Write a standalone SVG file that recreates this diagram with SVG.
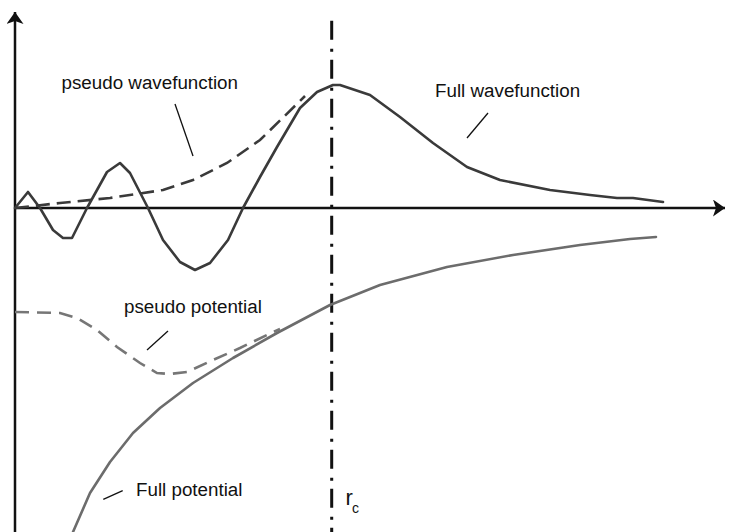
<svg xmlns="http://www.w3.org/2000/svg" width="729" height="532" viewBox="0 0 729 532">
<style>
.lbl{font-family:"Liberation Sans",Arial,sans-serif;font-size:18.8px;fill:#111}
.axis{stroke:#111;stroke-width:2.5;fill:none}
.wf{stroke:#3a3a3a;stroke-width:2.6;fill:none;stroke-linejoin:round;stroke-linecap:round}
.pwf{stroke:#3a3a3a;stroke-width:2.6;fill:none;stroke-dasharray:14 7}
.pot{stroke:#6c6c6c;stroke-width:2.6;fill:none;stroke-linejoin:round;stroke-linecap:round}
.ppot{stroke:#767676;stroke-width:2.6;fill:none;stroke-dasharray:14 8}
.ptr{stroke:#111;stroke-width:1.3}
</style>
<defs>
<marker id="arr" markerUnits="userSpaceOnUse" markerWidth="16" markerHeight="18" refX="12" refY="8.5" orient="auto">
<path d="M12,8.5 L0,0 L3,8.5 L0,17 Z" fill="#111"/>
</marker>
</defs>
<rect width="729" height="532" fill="#fff"/>
<g id="axes">
<line class="axis" x1="15" y1="532" x2="15" y2="12" marker-end="url(#arr)"/>
<line class="axis" x1="15" y1="208" x2="725" y2="208" marker-end="url(#arr)"/>
</g>
<g id="rc-line">
<line x1="331.7" y1="20.7" x2="331.7" y2="532" stroke="#111" stroke-width="3" stroke-dasharray="19 9 3 8"/>
</g>
<g id="curves">
<polyline id="full-wavefunction" class="wf" points="15,208 28,192 40,208 53,230 63,238 72,238 87,208 107,172 120,163 130,173 148,208 163,240 180,262 195,270 210,263 228,240 243,208 260,177 277,147 300,108 317,92 333,85 340,85 370,95 400,117 433,143 467,167 500,180 550,190 590,195 617,198 633,198 663,202"/>
<polyline id="pseudo-wavefunction" class="pwf" points="15,208 60,203 110,198 163,190 193,180 227,163 260,140 300,101 305,96"/>
<polyline id="full-potential" class="pot" points="73,532 90,493 110,462 133,433 160,408 193,383 233,358 277,333 330,305 380,285 447,267 513,255 580,245 630,239 656,237"/>
<polyline id="pseudo-potential" class="ppot" points="15,312 60,313 77,318 97,330 117,347 140,363 157,373 170,374 187,372 213,360 240,348 267,335 280,329"/>
</g>
<g id="connectors">
<line class="ptr" x1="175" y1="104" x2="193" y2="156"/>
<line class="ptr" x1="488" y1="113" x2="467" y2="138"/>
<line class="ptr" x1="168" y1="331" x2="147" y2="350"/>
<line class="ptr" x1="122.7" y1="490.7" x2="103.3" y2="499.3"/>
</g>
<g id="label-pseudo-wavefunction"><text class="lbl" x="61.5" y="89">pseudo wavefunction</text></g>
<g id="label-full-wavefunction"><text class="lbl" x="435" y="97">Full wavefunction</text></g>
<g id="label-pseudo-potential"><text class="lbl" x="124" y="313">pseudo potential</text></g>
<g id="label-full-potential"><text class="lbl" x="136" y="496">Full potential</text></g>
<g id="label-rc"><text class="lbl" x="345.5" y="505" style="font-size:22px">r</text><text class="lbl" x="352" y="513" style="font-size:14px">c</text></g>
</svg>
